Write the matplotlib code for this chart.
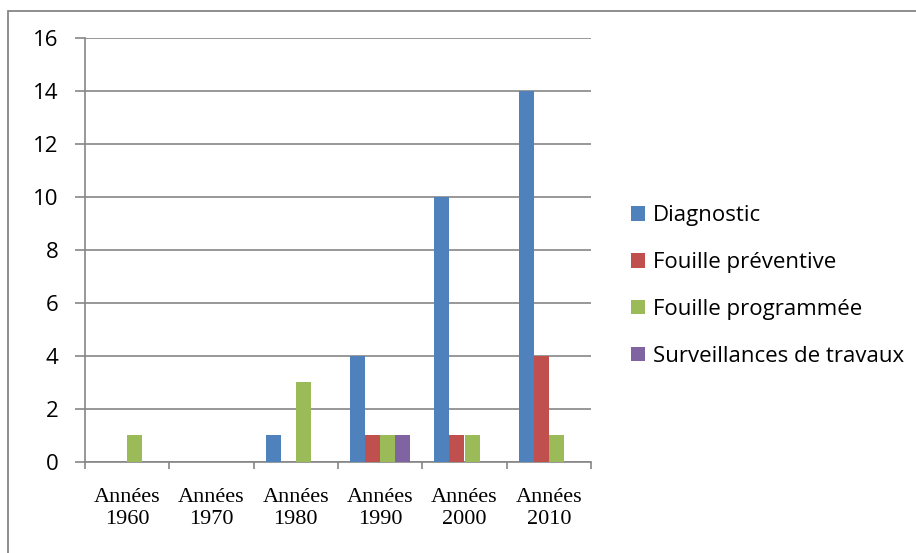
import numpy as np
import matplotlib.pyplot as plt
from matplotlib.patches import Rectangle

# Données
categories = ["Années\n1960", "Années\n1970", "Années\n1980",
              "Années\n1990", "Années\n2000", "Années\n2010"]
diagnostic = [0, 0, 1, 4, 10, 14]
fouille_preventive = [0, 0, 0, 1, 1, 4]
fouille_programmee = [1, 0, 3, 1, 1, 1]
surveillances = [0, 0, 0, 1, 0, 0]

series = [
    ("Diagnostic", diagnostic, "#4F81BD"),
    ("Fouille préventive", fouille_preventive, "#C0504D"),
    ("Fouille programmée", fouille_programmee, "#9BBB59"),
    ("Surveillances de travaux", surveillances, "#8064A2"),
]

W, H = 916, 553
fig = plt.figure(figsize=(W / 100, H / 100), dpi=100)
ax = fig.add_axes([85 / W, 1 - 461.5 / H, (591 - 85) / W, (461.5 - 38) / H])

# Cadre extérieur
fig.patches.append(Rectangle((8 / W, -0.1), 1.2, 1 - 11 / H + 0.1,
                             transform=fig.transFigure, fill=False,
                             edgecolor="#868686", linewidth=1.3))

x = np.arange(len(categories))
largeur = 0.178
for i, (nom, valeurs, couleur) in enumerate(series):
    ax.bar(x + (i - 1.5) * largeur, valeurs, width=largeur, color=couleur,
           label=nom, zorder=3)

ax.set_xlim(-0.5, len(categories) - 0.5)
ax.set_ylim(0, 16)
ax.set_yticks(range(0, 17, 2))
ax.yaxis.grid(True, color="#868686", linewidth=1.2, zorder=0)

for cote in ["top", "right"]:
    ax.spines[cote].set_visible(False)
ax.spines["left"].set_color("#868686")
ax.spines["bottom"].set_color("#868686")
ax.spines["left"].set_linewidth(1.2)
ax.spines["bottom"].set_linewidth(1.2)

# Graduations x aux limites des catégories
ax.set_xticks(np.arange(-0.5, len(categories), 1.0))
ax.set_xticklabels([])
ax.set_xticks(x, minor=True)
ax.set_xticklabels(categories, minor=True, family="Liberation Serif",
                   fontsize=16, linespacing=1.2)
ax.tick_params(axis="x", which="major", direction="out", length=5,
               color="#868686", width=1.2)
ax.tick_params(axis="x", which="minor", length=0, pad=19)
ax.tick_params(axis="y", direction="out", length=7, color="#868686",
               width=1.2, labelsize=16, pad=12)
for lab in ax.get_yticklabels():
    lab.set_family("Open Sans")

fig.legend(loc="center left", bbox_to_anchor=(611 / W, 1 - 286 / H),
           frameon=False, prop={"family": "Open Sans", "size": 16},
           handlelength=0.63, handleheight=0.63, handletextpad=0.36,
           labelspacing=1.16)

plt.savefig("out.png", dpi=100)
plt.close()
